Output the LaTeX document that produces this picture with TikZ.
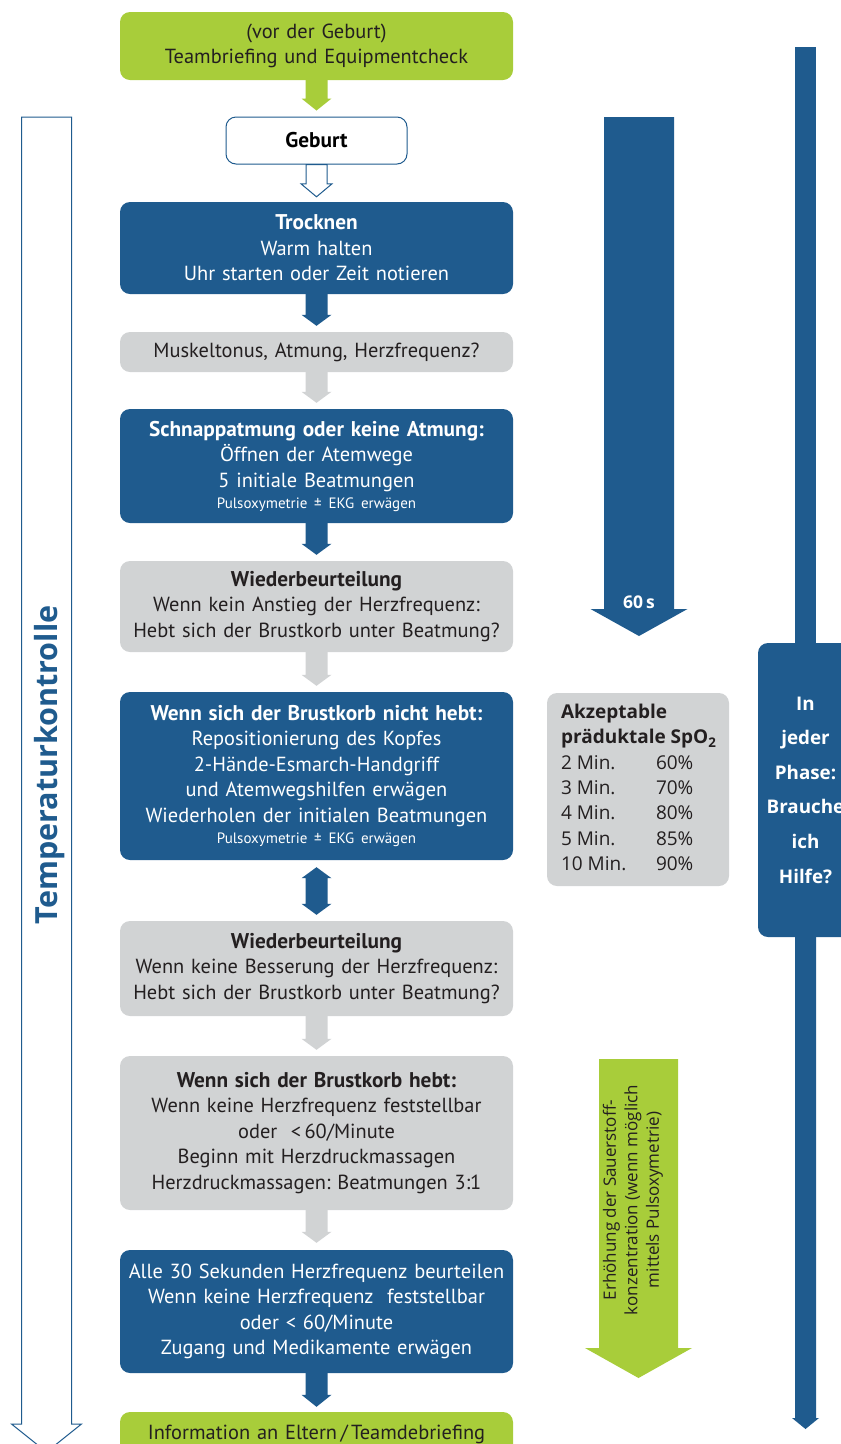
\documentclass[tikz,border=0pt]{standalone}
\usepackage{fontspec}
\setmainfont{PT Sans}
\newfontfamily\opensans{Open Sans}
\usetikzlibrary{arrows.meta,calc}

\definecolor{nlsblue}{RGB}{31,91,142}
\definecolor{nlsgray}{RGB}{209,211,212}
\definecolor{nlsgreen}{RGB}{168,205,58}
\definecolor{nlstext}{RGB}{35,31,32}

% block arrow pointing down: [style]{from}{tip}{shaft}{head width}{head length}
\newcommand\blockarrow[6][]{%
  \path[#1] let \p1=(#2), \p2=(#3) in
    (\x1-#4/2,\y1) -- (\x1-#4/2,\y2+#6) -- (\x1-#5/2,\y2+#6) -- (\x1,\y2)
    -- (\x1+#5/2,\y2+#6) -- (\x1+#4/2,\y2+#6) -- (\x1+#4/2,\y1) -- cycle;}
\newcommand\boxhead[1]{{\fontsize{21.3}{25.5}\selectfont\bfseries #1}}
\newcommand\boxnote[1]{{\fontsize{15}{16}\selectfont #1}}

\begin{document}
\begin{tikzpicture}[x=1pt,y=-1pt,
    box/.style={rounded corners=10pt,minimum width=393pt,text width=393pt,inner sep=0pt,
      align=center,font=\fontsize{20.4}{25.5}\selectfont\frenchspacing},
    bluebox/.style={box,fill=nlsblue,text=white},
    graybox/.style={box,fill=nlsgray,text=nlstext},
    greenbox/.style={box,fill=nlsgreen,text=nlstext},
    bluefill/.style={fill=nlsblue},
    grayfill/.style={fill=nlsgray},
    greenfill/.style={fill=nlsgreen},
    hollow/.style={fill=white,draw=nlsblue,line width=1pt}]
  \useasboundingbox (0,0) rectangle (841,1444);
  \clip (0,0) rectangle (841,1444);

  % left column: Temperaturkontrolle
  \coordinate (tempstart) at (46.5,117);
  \coordinate (tempend) at (46.5,1452);
  \blockarrow[hollow]{tempstart}{tempend}{50pt}{70pt}{28pt}
  \node[rotate=90,anchor=base,text=nlsblue,font=\opensans\bfseries\fontsize{30.5}{34}\selectfont] (temptext) at (57,765) {Temperaturkontrolle};

  % main column
  \node[greenbox,minimum height=68pt] (team) at (316.5,46) {(vor der Geburt)\\Teambriefing und Equipmentcheck};
  \node[box,fill=white,draw=nlsblue,line width=1pt,minimum width=181pt,text width=181pt,minimum height=47pt] (geburt) at (316.5,140.5) {\boxhead{Geburt}};
  \node[bluebox,minimum height=92pt] (trocknen) at (316.5,248) {\boxhead{Trocknen}\\Warm halten\\Uhr starten oder Zeit notieren};
  \node[graybox,minimum height=40pt] (muskel) at (316.5,352) {Muskeltonus, Atmung, Herzfrequenz?};
  \node[bluebox,minimum height=114pt] (schnapp) at (316.5,466) {\boxhead{Schnappatmung oder keine Atmung:}\\Öffnen der Atemwege\\5 initiale Beatmungen\\[-4.5pt]\boxnote{Pulsoxymetrie ± EKG erwägen}};
  \node[graybox,minimum height=91pt] (wieder1) at (316.5,606.5) {\boxhead{Wiederbeurteilung}\\Wenn kein Anstieg der Herzfrequenz:\\Hebt sich der Brustkorb unter Beatmung?};
  \node[bluebox,minimum height=168pt] (nichthebt) at (316.5,776) {\boxhead{Wenn sich der Brustkorb nicht hebt:}\\Repositionierung des Kopfes\\2-Hände-Esmarch-Handgriff\\und Atemwegshilfen erwägen\\Wiederholen der initialen Beatmungen\\[-4.5pt]\boxnote{Pulsoxymetrie ± EKG erwägen}};
  \node[graybox,minimum height=95pt] (wieder2) at (316.5,968.5) {\boxhead{Wiederbeurteilung}\\Wenn keine Besserung der Herzfrequenz:\\Hebt sich der Brustkorb unter Beatmung?};
  \node[graybox,minimum height=154pt] (hebt) at (316.5,1133) {\boxhead{Wenn sich der Brustkorb hebt:}\\Wenn keine Herzfrequenz feststellbar\\oder\ \ <\,60/Minute\\Beginn mit Herzdruckmassagen\\Herzdruckmassagen: Beatmungen 3:1};
  \node[bluebox,minimum height=123pt] (alle) at (316.5,1311.5) {Alle 30 Sekunden Herzfrequenz beurteilen\\Wenn keine Herzfrequenz\ \ feststellbar\\oder < 60/Minute\\Zugang und Medikamente erwägen};
  \node[greenbox,minimum height=44pt] (info) at (316.5,1434) {Information an Eltern\,/\,Teamdebriefing};

  \blockarrow[greenfill]{team.south}{$(geburt.north)+(0,-6)$}{22pt}{30pt}{12pt}
  \blockarrow[hollow]{geburt.south}{$(trocknen.north)+(0,-5)$}{21pt}{31pt}{13pt}
  \blockarrow[bluefill]{trocknen.south}{$(muskel.north)+(0,-6)$}{22pt}{30pt}{11pt}
  \blockarrow[grayfill]{muskel.south}{$(schnapp.north)+(0,-6)$}{22pt}{30pt}{11pt}
  \blockarrow[bluefill]{schnapp.south}{$(wieder1.north)+(0,-6)$}{22pt}{30pt}{11pt}
  \blockarrow[grayfill]{wieder1.south}{$(nichthebt.north)+(0,-6)$}{22pt}{30pt}{11pt}
  \path[bluefill] let \p1=($(nichthebt.south)+(0,7)$), \p2=($(wieder2.north)+(0,-6)$) in
    (\x1,\y1) -- (\x1+15pt,\y1-11pt) -- (\x1+11pt,\y1-11pt) -- (\x1+11pt,\y2+11pt)
    -- (\x1+15pt,\y2+11pt) -- (\x1,\y2) -- (\x1-15pt,\y2+11pt) -- (\x1-11pt,\y2+11pt)
    -- (\x1-11pt,\y1-11pt) -- (\x1-15pt,\y1-11pt) -- cycle;
  \blockarrow[grayfill]{wieder2.south}{$(hebt.north)+(0,-6)$}{22pt}{30pt}{11pt}
  \blockarrow[grayfill]{hebt.south}{$(alle.north)+(0,-7)$}{22pt}{30pt}{11pt}
  \blockarrow[bluefill]{alle.south}{$(info.north)+(0,-5)$}{22pt}{30pt}{12pt}

  % 60 s
  \coordinate (sixtytop) at (639,117);
  \coordinate (sixtytip) at (639,636);
  \blockarrow[bluefill]{sixtytop}{sixtytip}{70pt}{97pt}{27pt}
  \node[text=white,font=\opensans\bfseries\fontsize{17.5}{20}\selectfont] (sixty) at (639,602) {60\,s};

  % SpO2 targets
  \node[fill=nlsgray,rounded corners=10pt,inner sep=0pt,minimum width=182pt,minimum height=193pt,text=nlstext,
    font=\opensans\fontsize{19}{25.4}\selectfont] (spo) at (638,789.5)
    {\begin{tabular}{@{\hspace{11pt}}p{95pt}@{}p{70pt}@{}}
     \multicolumn{2}{@{\hspace{11pt}}l@{}}{\textbf{Akzeptable}}\\
     \multicolumn{2}{@{\hspace{11pt}}l@{}}{\textbf{präduktale SpO\textsubscript{2}}}\\
     2 Min. & 60\%\\ 3 Min. & 70\%\\ 4 Min. & 80\%\\ 5 Min. & 85\%\\ 10 Min. & 90\%
     \end{tabular}};

  % oxygen
  \coordinate (oxytop) at (638.5,1059);
  \coordinate (oxytip) at (638.5,1378);
  \blockarrow[greenfill]{oxytop}{oxytip}{79pt}{107pt}{30pt}
  \node[rotate=90,align=center,text=nlstext,font=\opensans\fontsize{17}{21.5}\selectfont] (oxytext) at (633,1200)
    {Erhöhung der Sauerstoff-\\konzentration (wenn möglich\\mittels Pulsoxymetrie)};

  % help
  \coordinate (helptop) at (805.5,47);
  \coordinate (helpend) at (805.5,1429);
  \node[fill=nlsblue,rounded corners=10pt,minimum width=95pt,minimum height=294pt,align=center,text=white,
    font=\opensans\bfseries\fontsize{18.8}{34.6}\selectfont] (hilfe) at (805.5,790) {In\\jeder\\Phase:\\Brauche\\ich\\Hilfe?};
  \draw[nlsblue,line width=21pt] (helptop) -- (hilfe.north);
  \blockarrow[bluefill]{hilfe.south}{helpend}{21pt}{27pt}{11pt}
\end{tikzpicture}
\end{document}
